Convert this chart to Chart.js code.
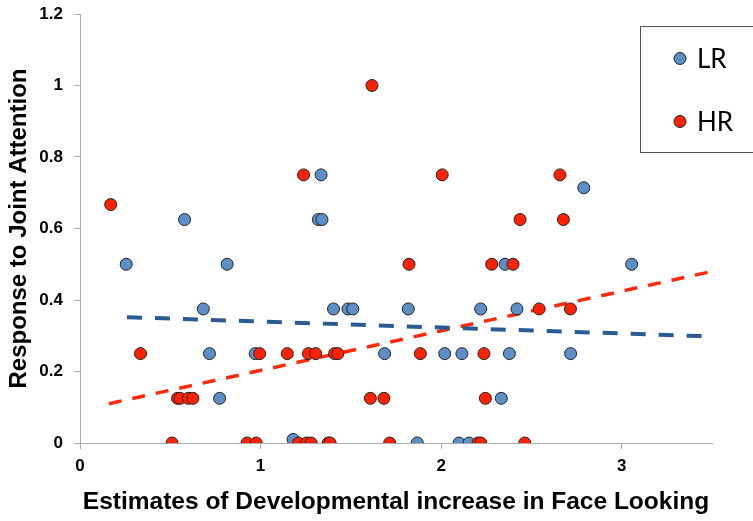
<!DOCTYPE html>
<html>
<head>
<meta charset="utf-8">
<script src="https://cdn.jsdelivr.net/npm/chart.js@4.4.1/dist/chart.umd.min.js"></script>
<style>
html,body{margin:0;padding:0;background:#fff;}
#wrap{position:relative;width:753px;height:521px;}
</style>
</head>
<body>
<div id="wrap"><canvas id="c" width="753" height="521"></canvas></div>
<script>
// ---- data ----
const lrX = [0.256, 0.579, 0.683, 0.717, 0.773, 0.815, 0.97, 1.18, 1.32, 1.335, 1.34, 1.404, 1.484, 1.511, 1.687, 1.818, 1.868, 2.02, 2.099, 2.115, 2.154, 2.219, 2.333, 2.354, 2.378, 2.42, 2.717, 2.79, 3.055];
const lrY = [0.5, 0.625, 0.375, 0.25, 0.125, 0.5, 0.25, 0.01, 0.625, 0.75, 0.625, 0.375, 0.375, 0.375, 0.25, 0.375, 0, 0.25, 0, 0.25, 0, 0.375, 0.125, 0.5, 0.25, 0.375, 0.25, 0.714, 0.5];
const hrX = [0.17, 0.335, 0.51, 0.54, 0.555, 0.60, 0.625, 0.925, 0.976, 0.995, 1.148, 1.21, 1.238, 1.255, 1.265, 1.28, 1.305, 1.375, 1.385, 1.41, 1.428, 1.608, 1.617, 1.683, 1.715, 1.822, 1.885, 2.006, 2.204, 2.219, 2.237, 2.245, 2.28, 2.398, 2.437, 2.463, 2.543, 2.658, 2.677, 2.716];
const hrY = [0.667, 0.25, 0, 0.125, 0.125, 0.125, 0.125, 0, 0, 0.25, 0.25, 0, 0.75, 0, 0.25, 0, 0.25, 0, 0, 0.25, 0.25, 0.125, 1.0, 0.125, 0, 0.5, 0.25, 0.75, 0, 0, 0.25, 0.125, 0.5, 0.5, 0.625, 0, 0.375, 0.75, 0.625, 0.375];
const lrTrendX = [0.26, 3.5];
const lrTrendY = [0.352, 0.298];
const hrTrendX = [0.16, 3.5];
const hrTrendY = [0.110, 0.480];
const xTicks = [0, 1, 2, 3];
const yTicks = [0, 0.2, 0.4, 0.6, 0.8, 1, 1.2];
const seriesNames = ['LR', 'HR'];
const xTitle = 'Estimates of Developmental increase in Face Looking';
const yTitle = 'Response to Joint Attention';

const BLUE = '#5b8fc6', RED = '#ff2200';
const BLUE_LINE = '#2a5a92', RED_LINE = '#ff2a0a';

const pts = (xs, ys) => xs.map((x, i) => ({x: x, y: ys[i]}));

const legendPlugin = {
  id: 'boxLegend',
  afterDraw(chart) {
    const ctx = chart.ctx;
    ctx.save();
    ctx.strokeStyle = '#555';
    ctx.lineWidth = 1;
    ctx.strokeRect(640.5, 26.5, 130, 126);
    const items = [
      {name: seriesNames[0], color: BLUE, y: 58.5},
      {name: seriesNames[1], color: RED, y: 121.5}
    ];
    ctx.font = '26px Lato, "Open Sans", sans-serif';
    ctx.textBaseline = 'middle';
    items.forEach(it => {
      ctx.beginPath();
      ctx.arc(680, it.y, 6, 0, Math.PI * 2);
      ctx.fillStyle = it.color;
      ctx.fill();
      ctx.strokeStyle = '#222';
      ctx.stroke();
      ctx.fillStyle = '#000';
      ctx.fillText(it.name, 697, it.y + 1);
    });
    ctx.restore();
  }
};

const tickFont = {family: '"Liberation Sans", Arial, sans-serif', size: 17, weight: 'bold'};
const xTitleFont = {family: '"Liberation Sans", Arial, sans-serif', size: 24.5, weight: 'bold'};
const yTitleFont = {family: '"Liberation Sans", Arial, sans-serif', size: 24, weight: 'bold'};

new Chart(document.getElementById('c'), {
  data: {
    datasets: [
      {type: 'scatter', label: seriesNames[1], data: pts(hrX, hrY), backgroundColor: RED, borderColor: '#222', borderWidth: 1, pointRadius: 6, order: 1},
      {type: 'scatter', label: seriesNames[0], data: pts(lrX, lrY), backgroundColor: BLUE, borderColor: '#222', borderWidth: 1, pointRadius: 6, order: 2},
      {type: 'line', data: pts(lrTrendX, lrTrendY), borderColor: BLUE_LINE, borderWidth: 4, borderDash: [15, 13], pointRadius: 0, fill: false, order: 3},
      {type: 'line', data: pts(hrTrendX, hrTrendY), borderColor: RED_LINE, borderWidth: 3.5, borderDash: [13, 11], pointRadius: 0, fill: false, order: 3}
    ]
  },
  options: {
    responsive: false,
    animation: false,
    devicePixelRatio: 1,
    layout: {padding: {top: 14, right: 41, left: 0, bottom: 0}},
    plugins: {legend: {display: false}, tooltip: {enabled: false}},
    scales: {
      x: {
        type: 'linear', min: 0, max: 3.5,
        afterFit(s) { s.height = 78; s.paddingLeft = 0; s.paddingRight = 0; },
        afterBuildTicks(s) { s.ticks = xTicks.map(v => ({value: v})); },
        border: {color: '#aaa', width: 1},
        grid: {display: true, drawOnChartArea: false, drawTicks: true, tickLength: 6, color: '#aaa'},
        ticks: {color: '#000', padding: 7, font: tickFont, callback: v => String(v)},
        title: {display: true, text: xTitle, color: '#000', padding: {top: 0, bottom: 4}, font: xTitleFont}
      },
      y: {
        type: 'linear', min: 0, max: 1.2,
        afterFit(s) { s.width = 80; s.paddingTop = 0; s.paddingBottom = 0; },
        afterBuildTicks(s) { s.ticks = yTicks.map(v => ({value: v})); },
        border: {color: '#aaa', width: 1},
        grid: {display: true, drawOnChartArea: false, drawTicks: true, tickLength: 6, color: '#aaa'},
        ticks: {color: '#000', padding: 11, font: tickFont, callback: v => String(v)},
        title: {display: true, text: yTitle, color: '#000', padding: {top: 5, bottom: 0}, font: yTitleFont}
      }
    }
  },
  plugins: [legendPlugin]
});
</script>
</body>
</html>
